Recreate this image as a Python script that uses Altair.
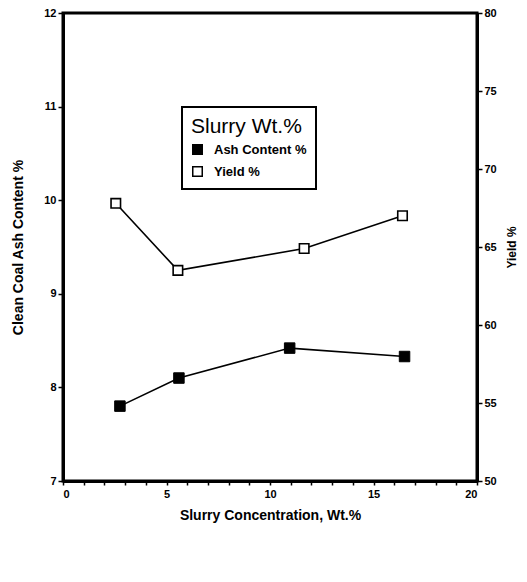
import altair as alt
import pandas as pd

# Data
ash_x = [2.75, 5.6, 10.95, 16.5]
ash_y = [7.8, 8.1, 8.42, 8.33]
yield_x = [2.55, 5.55, 11.65, 16.4]
yield_y = [67.8, 63.5, 64.9, 67.0]

x_ticks = list(range(0, 21))
left_ticks = [7, 8, 9, 10, 11, 12]
right_ticks = [50, 55, 60, 65, 70, 75, 80]

ash = pd.DataFrame({"x": ash_x, "y": ash_y, "s": "Ash Content %"})
yld = pd.DataFrame({"x": yield_x, "y": yield_y, "s": "Yield %"})

FONT = "Liberation Sans"

x_enc = alt.X(
    "x:Q",
    scale=alt.Scale(domain=[0, 20], nice=False),
    axis=alt.Axis(
        values=x_ticks,
        format="d",
        labelExpr="datum.value % 5 == 0 ? datum.label : ''",
        title="Slurry Concentration, Wt.%",
        grid=False,
        domainWidth=3,
        tickWidth=1.5,
        tickSize=4,
        labelPadding=3,
        titlePadding=9,
    ),
)

fill_scale = alt.Scale(domain=["Ash Content %", "Yield %"], range=["black", "white"])

ash_line = alt.Chart(ash).mark_line(color="black", strokeWidth=1.6).encode(
    x=x_enc,
    y=alt.Y(
        "y:Q",
        scale=alt.Scale(domain=[7, 12], nice=False),
        axis=alt.Axis(
            values=left_ticks,
            format="d",
            title="Clean Coal Ash Content %",
            grid=False,
            orient="left",
            domainWidth=3,
            tickWidth=1.5,
            tickSize=5,
            labelPadding=2,
            titlePadding=18,
        ),
    ),
)
ash_pts = alt.Chart(ash).mark_point(
    shape="square", size=110, filled=True, stroke="black", strokeWidth=1, opacity=1
).encode(
    x=x_enc,
    y=alt.Y("y:Q", scale=alt.Scale(domain=[7, 12], nice=False)),
    fill=alt.Fill("s:N", scale=fill_scale,
                  legend=alt.Legend(title="Slurry Wt.%", orient="none",
                                    legendX=119, legendY=94)),
)
ash_layer = alt.layer(ash_line, ash_pts)

yld_line = alt.Chart(yld).mark_line(color="black", strokeWidth=1.6).encode(
    x=x_enc,
    y=alt.Y(
        "y:Q",
        scale=alt.Scale(domain=[50, 80], nice=False),
        axis=alt.Axis(
            values=right_ticks,
            format="d",
            title="Yield %",
            grid=False,
            orient="right",
            domainWidth=3,
            tickWidth=1.5,
            tickSize=5,
            labelPadding=2,
            titlePadding=22,
            titleAngle=270,
            titleFontSize=12,
        ),
    ),
)
yld_pts = alt.Chart(yld).mark_point(
    shape="square", size=90, filled=True, stroke="black", strokeWidth=1.6, opacity=1
).encode(
    x=x_enc,
    y=alt.Y("y:Q", scale=alt.Scale(domain=[50, 80], nice=False)),
    fill=alt.Fill("s:N", scale=fill_scale),
)
yld_layer = alt.layer(yld_line, yld_pts)

chart = (
    alt.layer(ash_layer, yld_layer)
    .resolve_scale(y="independent")
    .properties(
        width=414,
        height=468,
        autosize=alt.AutoSizeParams(type="none"),
        padding={"left": 63, "top": 13, "right": 50, "bottom": 101},
        background="white",
    )
    .configure_view(stroke="black", strokeWidth=3)
    .configure_axis(
        domainColor="black",
        tickColor="black",
        labelColor="black",
        titleColor="black",
        labelFont=FONT,
        titleFont=FONT,
        labelFontSize=11,
        labelFontWeight="bold",
        titleFontSize=14,
        titleFontWeight="bold",
    )
    .configure_legend(
        strokeColor="black",
        strokeWidth=2,
        fillColor="white",
        padding=9,
        titleFont=FONT,
        titleFontSize=21,
        titleFontWeight="normal",
        titleColor="black",
        titlePadding=6,
        labelFont=FONT,
        labelFontSize=13,
        labelFontWeight="bold",
        labelColor="black",
        symbolType="square",
        symbolSize=90,
        symbolStrokeColor="black",
        symbolStrokeWidth=1.5,
        rowPadding=5,
        labelOffset=10,
    )
)

chart.save("out.html", embed_options={"renderer": "svg", "actions": False})
